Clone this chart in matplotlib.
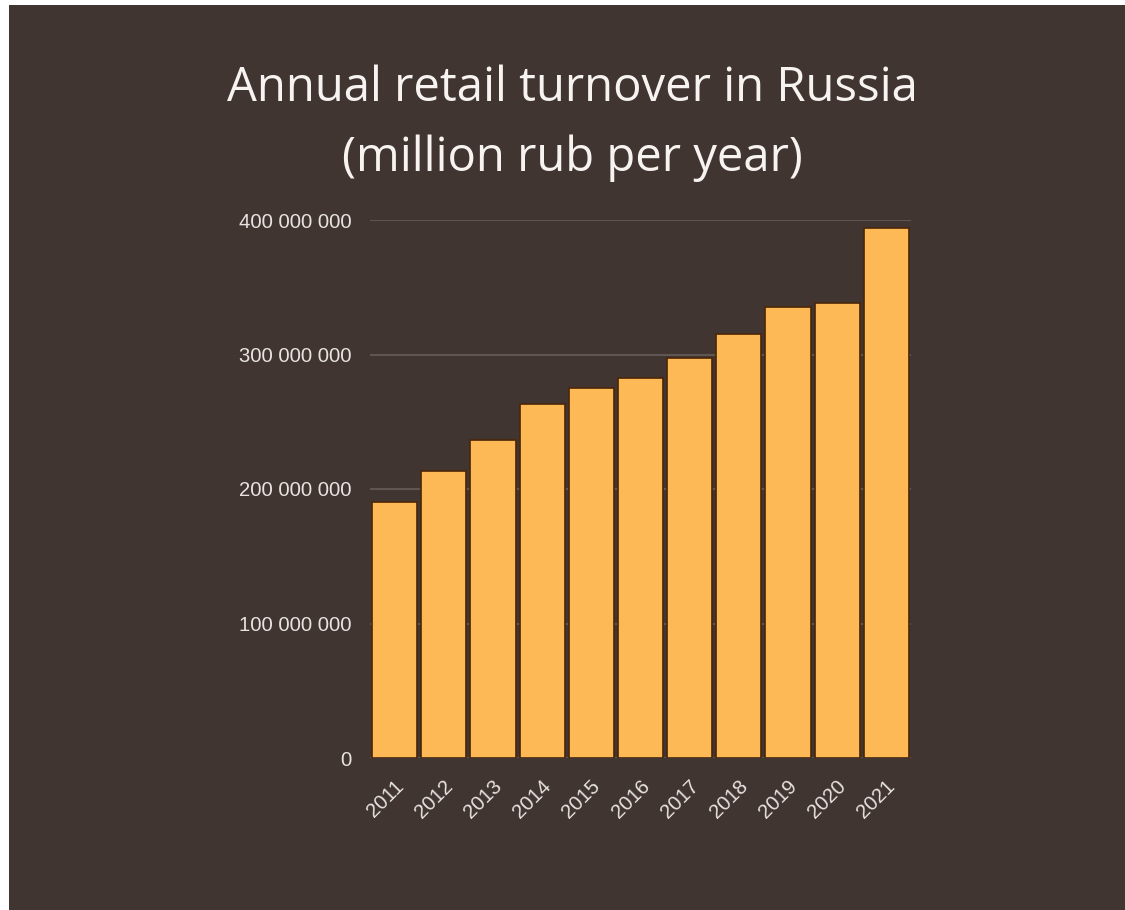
import numpy as np
import matplotlib.pyplot as plt
import matplotlib.transforms as mtransforms
from matplotlib.patches import Rectangle
from matplotlib.ticker import FuncFormatter


years = ['2011', '2012', '2013', '2014', '2015', '2016', '2017', '2018', '2019', '2020', '2021']
turnover = np.array([190.3, 213.4, 236.4, 263.2, 275.1, 282.5, 297.4, 315.2, 335.3, 338.3, 394.1]) * 1e6
yticks = [0, 100e6, 200e6, 300e6, 400e6]

bg = '#413532'
bar_color = '#fdb955'
text_color = '#e8e3e1'

fig = plt.figure(figsize=(11.25, 9.1), dpi=100)
fig.patch.set_facecolor('white')
fig.patches.append(Rectangle((9 / 1125, 0), 1 - 9 / 1125, 1 - 5 / 910, transform=fig.transFigure,
                             facecolor=bg, edgecolor='none', zorder=-1))

ax = fig.add_axes([370 / 1125, 152 / 910, 541 / 1125, 538 / 910])
ax.set_facecolor(bg)

x = np.arange(len(years))
ax.bar(x, turnover, width=0.92, color=bar_color, edgecolor='#4a2608', linewidth=1.2, zorder=2)

ax.set_xlim(-0.5, len(years) - 0.5)
ax.set_ylim(0, 400e6)
ax.set_yticks(yticks)
ax.yaxis.set_major_formatter(FuncFormatter(lambda v, p: f'{int(v):,}'.replace(',', ' ')))
ax.grid(axis='y', color='#5f5653', linewidth=1.5)
ax.grid(axis='x', visible=False)
ax.set_axisbelow(True)
for s in ax.spines.values():
    s.set_visible(False)

ax.tick_params(length=0, colors=text_color, labelsize=14.6)
ax.tick_params(axis='y', pad=13)
ax.tick_params(axis='x', pad=18)
ax.set_xticks(x, years)
shift = mtransforms.ScaledTranslation(6 / 100, 0, fig.dpi_scale_trans)
for lab in ax.get_xticklabels():
    lab.set_rotation(45)
    lab.set_ha('right')
    lab.set_va('center')
    lab.set_rotation_mode('anchor')
    lab.set_transform(lab.get_transform() + shift)
for lab in ax.get_xticklabels() + ax.get_yticklabels():
    lab.set_family('Liberation Sans')

fig.text(572 / 1125, 1 - 88 / 910, 'Annual retail turnover in Russia', ha='center', va='center',
         fontsize=34, color='#f7f3f1', family='Open Sans')
fig.text(572 / 1125, 1 - 158 / 910, '(million rub per year)', ha='center', va='center',
         fontsize=34, color='#f7f3f1', family='Open Sans')

plt.savefig('out.png', dpi=100, facecolor=fig.get_facecolor())
